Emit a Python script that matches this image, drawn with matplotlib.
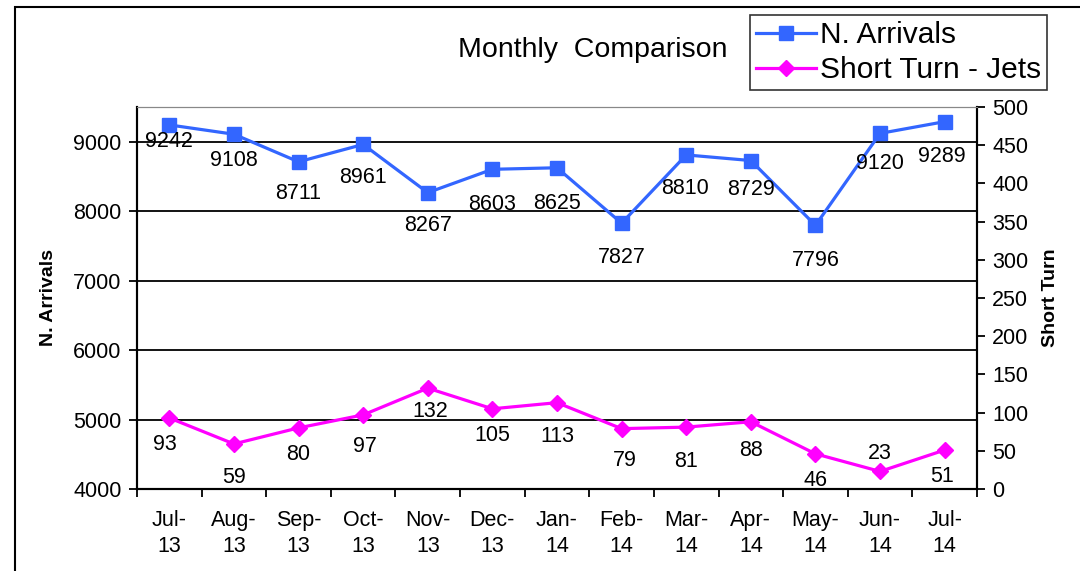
import matplotlib.pyplot as plt
import numpy as np
from matplotlib.patches import Rectangle

plt.rcParams['font.family'] = ['Liberation Sans', 'DejaVu Sans']

months = ['Jul-\n13', 'Aug-\n13', 'Sep-\n13', 'Oct-\n13', 'Nov-\n13', 'Dec-\n13', 'Jan-\n14',
          'Feb-\n14', 'Mar-\n14', 'Apr-\n14', 'May-\n14', 'Jun-\n14', 'Jul-\n14']
arrivals = [9242, 9108, 8711, 8961, 8267, 8603, 8625, 7827, 8810, 8729, 7796, 9120, 9289]
short_turn = [93, 59, 80, 97, 132, 105, 113, 79, 81, 88, 46, 23, 51]

# label offsets in points (dx, dy)
arr_off = [(0, -12), (0, -19), (0, -23), (0, -24), (0, -24), (0, -25), (0, -26),
           (0, -25), (-1, -24), (0, -21), (0, -25), (0, -22), (-2, -25)]
st_off = [(-3, -19), (0, -24), (0, -19), (1, -23), (2, -17), (0, -19), (0, -24),
          (2, -23), (0, -25), (0, -21), (0, -19), (0, 13), (-2, -19)]

blue = '#3366FF'
pink = '#FF00FF'
fs = 15.5

fig = plt.figure(figsize=(10.8, 5.71), dpi=100)
ax = fig.add_axes([137 / 1080, 1 - 489 / 571, 840 / 1080, 382 / 571])
ax2 = ax.twinx()

x = np.arange(len(months))
ax.plot(x, arrivals, color=blue, lw=2.3, marker='s', ms=10, zorder=3)
ax2.plot(x, short_turn, color=pink, lw=2.3, marker='D', ms=8, zorder=3)

for i, v in enumerate(arrivals):
    ax.annotate(str(v), (i, v), xytext=arr_off[i], textcoords='offset points',
                ha='center', va='center', fontsize=fs, zorder=4)
for i, v in enumerate(short_turn):
    ax2.annotate(str(v), (i, v), xytext=st_off[i], textcoords='offset points',
                 ha='center', va='center', fontsize=fs, zorder=4)

ax.set_xlim(-0.5, len(months) - 0.5)
ax.set_ylim(4000, 9500)
ax.set_yticks([4000, 5000, 6000, 7000, 8000, 9000])
ax2.set_ylim(0, 500)
ax2.set_yticks(range(0, 501, 50))

ax.set_xticks(x)
ax.set_xticklabels(months, fontsize=fs, linespacing=1.3)
ax.set_xticks(np.arange(-0.5, len(months), 1), minor=True)
ax.tick_params(axis='x', which='major', length=0, pad=15)
ax.tick_params(axis='x', which='minor', length=6, width=1.3, direction='out')
ax.tick_params(axis='y', labelsize=fs, length=6, width=1.3, direction='out', pad=5)
ax2.tick_params(axis='y', labelsize=fs, length=6, width=1.3, direction='out', pad=5)

for yv in [5000, 6000, 7000, 8000, 9000]:
    ax.axhline(yv, color='black', lw=1.3, zorder=1)

for a in (ax, ax2):
    a.spines['top'].set_color('#888888')
    a.spines['left'].set_linewidth(1.5)
    a.spines['right'].set_linewidth(1.5)
    a.spines['bottom'].set_linewidth(1.5)

ax.set_ylabel('N. Arrivals', fontsize=14, fontweight='bold', labelpad=12)
ax2.set_ylabel('Short Turn', fontsize=14, fontweight='bold', labelpad=10)

fig.text(593 / 1080, 1 - 50 / 571, 'Monthly  Comparison', fontsize=20.5,
         ha='center', va='center')

# outer frame
fig.patches.append(Rectangle((15 / 1080, -0.05), 1.1, 1 - 7 / 571 + 0.05,
                             transform=fig.transFigure, fill=False,
                             edgecolor='black', lw=1.5))

leg = fig.legend([ax.lines[0], ax2.lines[0]], ['N. Arrivals', 'Short Turn - Jets'],
                 loc='upper left', bbox_to_anchor=(750 / 1080, 1 - 15 / 571),
                 fontsize=21.5, frameon=True, fancybox=False, edgecolor='black',
                 handlelength=2.0, handletextpad=0.15, borderpad=0.2,
                 labelspacing=0.25, borderaxespad=0)
leg.get_frame().set_linewidth(1.2)

fig.savefig('out.png', dpi=100)
